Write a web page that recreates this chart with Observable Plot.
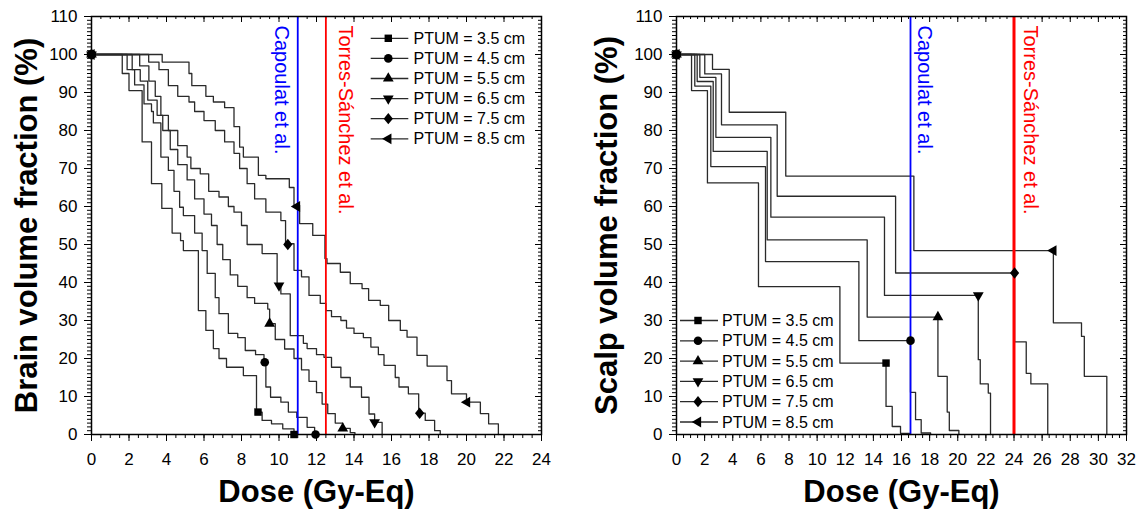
<!DOCTYPE html>
<html>
<head>
<meta charset="utf-8">
<script src="https://cdn.jsdelivr.net/npm/d3@7"></script>
<script src="https://cdn.jsdelivr.net/npm/@observablehq/plot@0.6"></script>
<style>
  html, body { margin: 0; padding: 0; background: #fff; }
  #wrap { position: relative; width: 1141px; height: 514px; overflow: hidden; background: #fff;
          font-family: "Liberation Sans", Arial, sans-serif; }
  .panel { position: absolute; top: 0; }
  #legend { position: absolute; left: 0; top: 0; pointer-events: none; }
</style>
</head>
<body>
<div id="wrap"></div>
<script>
// ---------------- data ----------------
const ptumLabels = ["PTUM = 3.5 cm", "PTUM = 4.5 cm", "PTUM = 5.5 cm", "PTUM = 6.5 cm", "PTUM = 7.5 cm", "PTUM = 8.5 cm"];

const brainDoseTicks = [0, 2, 4, 6, 8, 10, 12, 14, 16, 18, 20, 22, 24];
const scalpDoseTicks = [0, 2, 4, 6, 8, 10, 12, 14, 16, 18, 20, 22, 24, 26, 28, 30, 32];
const volumeTicks = [0, 10, 20, 30, 40, 50, 60, 70, 80, 90, 100, 110];

const refNames = ["Capoulat et al.", "Torres-Sánchez et al."];
const refColors = ["#0000ff", "#ff0000"];
const brainRefDose = [11.0, 12.5];
const scalpRefDose = [16.64, 24.0];

// Brain DVH curves: [dose (Gy-Eq), volume (%)]
const brain35 = [[0,100],[1.64,95],[2.0,90.5],[2.7,77],[3.2,66],[3.75,59.5],[4.3,53],[4.75,51],[4.9,48.4],[5.7,32.6],[6.1,27.4],[6.5,22.6],[6.8,20],[7.2,17.7],[8.1,15.5],[8.8,5.9],[9.1,3.7],[9.6,2.8],[10.2,1.5],[10.8,0]];
const brain45 = [[0,100],[1.9,96],[2.3,92],[2.8,87],[3.2,85],[3.3,82],[3.7,73],[4.1,69.5],[4.4,64],[4.7,59.8],[4.9,57.6],[5.5,53],[5.9,48.4],[6.17,42.4],[6.6,36],[6.8,31.8],[7.3,26.6],[7.8,25.5],[8.2,22.1],[8.75,21],[9.2,19],[9.3,12.5],[9.55,9.8],[10.1,8.5],[10.5,5.9],[10.95,4.5],[11.5,1.9],[11.9,0]];
const brain55 = [[0,100],[2.17,96],[2.6,93],[3.0,88],[3.5,84],[3.8,80],[4.2,75],[4.6,71],[5.1,67],[5.5,62],[6.0,58],[6.4,55],[6.7,50],[7.0,46],[7.4,42],[7.8,39],[8.3,36],[8.7,34.5],[9.4,33],[9.5,29.2],[9.8,25],[10.3,22.5],[10.8,20],[11.2,17],[11.6,14],[12.0,11],[12.3,8],[12.6,5.5],[13.0,3],[13.4,1.6],[13.8,0.5],[14.05,0]];
const brain65 = [[0,100],[2.57,97],[3.06,93],[3.4,89],[3.7,84],[4.1,80],[4.6,76],[5.1,73],[5.3,70],[5.8,68.6],[6.25,64],[6.8,62.5],[7.3,60],[7.6,58.5],[8.0,55],[8.3,50],[9.1,47.6],[9.9,39.2],[10.1,37],[10.6,26],[11.3,24],[11.5,22.6],[12.0,21],[12.4,20.3],[12.8,17.7],[13.3,15],[13.8,12.5],[14.4,9.8],[14.8,5.4],[15.1,3.2],[15.5,0]];
const brain75 = [[0,100],[3.05,98],[3.6,96],[4.1,91.8],[4.6,89],[5.2,87.5],[5.5,85],[6.0,82.6],[6.6,80],[7.1,77],[7.6,74],[7.9,70],[8.3,66],[8.7,62],[9.3,58.5],[10.1,56.3],[10.35,50.2],[10.8,43.2],[11.2,41.5],[11.6,36.6],[12.2,34.5],[12.5,32.6],[12.8,31],[13.3,30],[13.6,28],[14.0,26.6],[14.5,25.5],[14.9,23],[15.3,21],[15.6,18.2],[16.2,15],[16.4,12.5],[16.9,10.7],[17.45,5.6],[17.8,3.7],[18.3,1],[18.6,0]];
const brain85 = [[0,100],[3.77,98],[5.2,95],[5.35,91.8],[6.1,89],[6.5,87.5],[7.1,86],[7.6,81],[7.9,75.6],[8.1,73],[8.9,68.2],[9.3,67.3],[10.55,65],[10.8,60.3],[11.1,55.5],[11.8,52.4],[12.45,46.3],[12.56,45],[13.27,42.7],[13.8,39.7],[14.43,38.4],[14.78,35.3],[15.4,34],[15.85,30],[16.47,27.4],[16.83,25.6],[17.36,20.8],[17.9,18],[18.96,14.2],[19.2,10.7],[20.0,8.5],[20.74,5.5],[21.18,2.8],[21.7,0]];

// Brain marker positions
const brainMk35 = [[0,100],[8.88,5.9],[10.8,0]];
const brainMk45 = [[0,100],[9.24,19],[11.95,0]];
const brainMk55 = [[0,100],[9.5,29.2],[13.4,1.6]];
const brainMk65 = [[0,100],[10.0,39.2],[15.1,3.2]];
const brainMk75 = [[0,100],[10.47,50],[17.5,5.6]];
const brainMk85 = [[0,100],[10.96,60],[20.03,8.5]];

// Scalp DVH curves
const scalp35 = [[0,100],[1.07,90.5],[2.2,66.2],[5.83,38.9],[11.62,18.8],[14.9,7.4],[15.34,2.1],[15.93,0.3],[16.6,0]];
const scalp45 = [[0,100],[1.3,91.7],[2.44,70.5],[6.33,45.5],[12.97,24.7],[16.64,11.1],[17.0,3.9],[17.4,0.4],[18.07,0]];
const scalp55 = [[0,100],[1.47,92.9],[2.61,74.5],[6.45,51.2],[13.56,30.9],[18.59,15.3],[19.25,5.9],[19.4,1.05],[20.08,0]];
const scalp65 = [[0,100],[1.66,94.0],[2.8,78.2],[6.71,57.2],[14.79,36.6],[21.46,19.7],[21.6,13.3],[22.17,10.9],[22.33,0]];
const scalp75 = [[0,100],[2.01,94.9],[3.2,81.5],[7.16,62.7],[15.58,42.5],[24.04,24.4],[24.87,16.1],[25.2,13.3],[26.4,0]];
const scalp85 = [[0,100],[2.56,96.1],[3.75,84.8],[7.77,68.0],[16.88,48.4],[26.8,29.4],[28.8,25.8],[29.0,15.3],[30.6,0]];

// Scalp marker positions
const scalpMk35 = [[0,100],[14.9,18.8]];
const scalpMk45 = [[0,100],[16.64,24.7]];
const scalpMk55 = [[0,100],[18.59,30.9]];
const scalpMk65 = [[0,100],[21.46,36.6]];
const scalpMk75 = [[0,100],[24.04,42.5]];
const scalpMk85 = [[0,100],[26.8,48.4]];

// ---------------- symbols ----------------
const sqrt3 = Math.sqrt(3);
const symTriDown = { draw(c, s) { const y = -Math.sqrt(s / (sqrt3 * 3)); c.moveTo(0, -2 * y); c.lineTo(-sqrt3 * y, y); c.lineTo(sqrt3 * y, y); c.closePath(); } };
const symTriLeft = { draw(c, s) { const y = -Math.sqrt(s / (sqrt3 * 3)); c.moveTo(2 * y, 0); c.lineTo(-y, sqrt3 * y); c.lineTo(-y, -sqrt3 * y); c.closePath(); } };
const symDiamond = { draw(c, s) { const r = Math.sqrt(s / Math.PI); const h = r * 1.45, w = r * 1.18; c.moveTo(0, -h); c.lineTo(w, 0); c.lineTo(0, h); c.lineTo(-w, 0); c.closePath(); } };
const symbols = [d3.symbolSquare, d3.symbolCircle, d3.symbolTriangle, symTriDown, symDiamond, symTriLeft];
const symR = [4.2, 4.3, 4.0, 4.0, 3.9, 4.0];

const brainCurves = [brain35, brain45, brain55, brain65, brain75, brain85];
const brainMarks = [brainMk35, brainMk45, brainMk55, brainMk65, brainMk75, brainMk85];
const scalpCurves = [scalp35, scalp45, scalp55, scalp65, scalp75, scalp85];
const scalpMarks = [scalpMk35, scalpMk45, scalpMk55, scalpMk65, scalpMk75, scalpMk85];

const FONT = '"Liberation Sans", Arial, sans-serif';
const LINE = "#2a2a2a";

function makePanel(cfg) {
  const H = 514, mt = 16, mb = 80;
  const pw = cfg.width - cfg.ml - cfg.mr, ph = H - mt - mb;
  const xMax = cfg.xTicks[cfg.xTicks.length - 1];
  const minorX = d3.range(0, xMax + 1e-9, 0.5);
  const minorY = d3.range(0, 110 + 1e-9, 1);
  const marks = [
    Plot.axisX(minorX, {tickSize: 4, tickFormat: () => "", label: null}),
    Plot.axisX(cfg.xTicks, {tickSize: 7, tickPadding: 11, fontSize: 17, label: null}),
    Plot.axisY(minorY, {tickSize: 4, tickFormat: () => "", label: null}),
    Plot.axisY(volumeTicks, {tickSize: 7, tickPadding: 7, fontSize: 17, label: null}),
    Plot.ruleX(minorX, {x: d => d, insetBottom: ph - 3, stroke: "#000"}),
    Plot.ruleX(cfg.xTicks, {x: d => d, insetBottom: ph - 6, stroke: "#000"}),
    Plot.ruleY(minorY, {y: d => d, insetLeft: pw - 3, stroke: "#000"}),
    Plot.ruleY(volumeTicks, {y: d => d, insetLeft: pw - 6, stroke: "#000"}),
  ];
  cfg.curves.forEach(c => {
    marks.push(Plot.line(c, {x: d => d[0], y: d => d[1], curve: "step-after", stroke: LINE, strokeWidth: 1.3}));
  });
  cfg.refDose.forEach((x, i) => {
    marks.push(Plot.ruleX([x], {x: d => d, stroke: refColors[i], strokeWidth: cfg.refWidth[i]}));
    marks.push(Plot.text([refNames[i]], {
      x: () => x, text: d => d, frameAnchor: "top", rotate: 90, textAnchor: "start", lineAnchor: "middle",
      dx: cfg.refDx[i], dy: 9, fill: refColors[i], fontSize: 20
    }));
  });
  cfg.marks.forEach((m, i) => {
    marks.push(Plot.dot(m, {x: d => d[0], y: d => d[1], symbol: symbols[i], r: symR[i], fill: "#000", stroke: "none"}));
  });
  marks.push(Plot.frame({stroke: "#000", strokeWidth: 1.5}));
  marks.push(Plot.text([cfg.ylabel], {text: d => d, frameAnchor: "left", dx: cfg.ylabelDx, rotate: -90,
    textAnchor: "middle", lineAnchor: "middle", fontSize: 31, fontWeight: "bold", fill: "#000"}));
  marks.push(Plot.text(["Dose (Gy-Eq)"], {text: d => d, frameAnchor: "bottom", dy: 58,
    textAnchor: "middle", lineAnchor: "middle", fontSize: 31, fontWeight: "bold", fill: "#000"}));

  const svg = Plot.plot({
    width: cfg.width, height: H,
    marginLeft: cfg.ml, marginRight: cfg.mr, marginTop: mt, marginBottom: mb,
    style: {fontFamily: FONT, fontSize: "17px", color: "#000", background: "transparent", overflow: "visible"},
    x: {domain: [0, xMax]},
    y: {domain: [0, 110]},
    marks
  });
  svg.classList.add("panel");
  svg.style.left = cfg.left + "px";
  return svg;
}

const wrap = document.getElementById("wrap");
wrap.appendChild(makePanel({
  left: 0, width: 570, ml: 91, mr: 29, xTicks: brainDoseTicks,
  curves: brainCurves, marks: brainMarks, refDose: brainRefDose,
  refWidth: [1.8, 1.8], refDx: [-16, 20],
  ylabel: "Brain volume fraction (%)", ylabelDx: -64
}));
wrap.appendChild(makePanel({
  left: 570, width: 571, ml: 106, mr: 15, xTicks: scalpDoseTicks,
  curves: scalpCurves, marks: scalpMarks, refDose: scalpRefDose,
  refWidth: [1.8, 3], refDx: [14, 16],
  ylabel: "Scalp volume fraction (%)", ylabelDx: -69
}));

// ---------------- legends ----------------
const leg = d3.select(wrap).append("svg").attr("id", "legend").attr("width", 1141).attr("height", 514);
function legend(x0, x1, xm, xt, y0, dy) {
  ptumLabels.forEach((lab, i) => {
    const y = y0 + dy * i;
    const g = leg.append("g");
    g.append("line").attr("x1", x0).attr("x2", x1).attr("y1", y).attr("y2", y).attr("stroke", LINE).attr("stroke-width", 1.3);
    g.append("path").attr("d", d3.symbol().type(symbols[i]).size(Math.PI * symR[i] * symR[i])())
      .attr("transform", `translate(${xm},${y})`).attr("fill", "#000");
    g.append("text").attr("x", xt).attr("y", y).attr("dominant-baseline", "central")
      .attr("font-family", FONT).attr("font-size", 16).attr("fill", "#000").text(lab);
  });
}
legend(370.7, 408.3, 388.3, 413.5, 38.3, 20.1);
legend(680, 718, 698, 722, 320.5, 20.3);
</script>
</body>
</html>
